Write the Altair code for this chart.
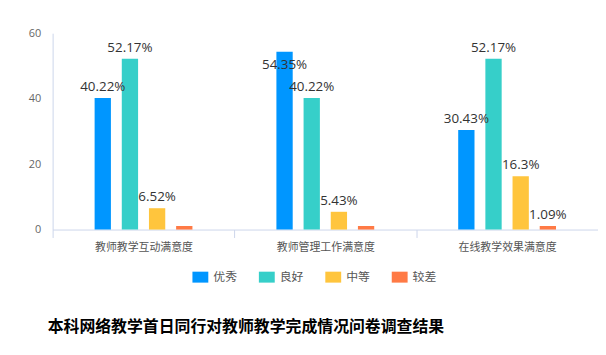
import altair as alt
import pandas as pd

categories = ["教师教学互动满意度", "教师管理工作满意度", "在线教学效果满意度"]
levels = ["优秀", "良好", "中等", "较差"]
colors = ["#0096FF", "#36CFC9", "#FFC53D", "#FF7A45"]

excellent = [40.22, 54.35, 30.43]
good = [52.17, 40.22, 52.17]
medium = [6.52, 5.43, 16.3]
poor = [1.09, 1.09, 1.09]
labels_excellent = ["40.22%", "54.35%", "30.43%"]
labels_good = ["52.17%", "40.22%", "52.17%"]
labels_medium = ["6.52%", "5.43%", "16.3%"]
labels_poor = ["", "", "1.09%"]

title_text = "本科网络教学首日同行对教师教学完成情况问卷调查结果"

rows = []
for series, vals, labs in zip(levels, [excellent, good, medium, poor],
                              [labels_excellent, labels_good, labels_medium, labels_poor]):
    for c, v, l in zip(categories, vals, labs):
        rows.append({"category": c, "level": series, "value": v, "label": l})
df = pd.DataFrame(rows)

FONT = "Noto Sans CJK SC"

x_enc = alt.X("category:N", sort=categories, title=None,
              scale=alt.Scale(paddingInner=0, paddingOuter=0),
              axis=alt.Axis(labelAngle=0, labelFontSize=11, labelColor="#555",
                            labelFont=FONT, domainColor="#ccd6eb", tickColor="#ccd6eb",
                            tickSize=8, tickBand="extent", labelPadding=4, grid=False))
xo_enc = alt.XOffset("level:N", sort=levels,
                     scale=alt.Scale(paddingInner=0.40, paddingOuter=0, range=[42.35, 140.99]))

bars = alt.Chart(df).mark_bar().encode(
    x=x_enc,
    xOffset=xo_enc,
    y=alt.Y("value:Q", title=None,
            scale=alt.Scale(domain=[0, 60], nice=False),
            axis=alt.Axis(values=[0, 20, 40, 60], grid=False, ticks=False,
                          domainColor="#ccd6eb", labelColor="#666", labelFontSize=11,
                          labelPadding=12, labelFont="Open Sans")),
    color=alt.Color("level:N", sort=levels,
                    scale=alt.Scale(domain=levels, range=colors),
                    legend=alt.Legend(title=None, orient="none", direction="horizontal",
                                      legendX=141, legendY=238, columns=4,
                                      symbolType="M-1,-0.69H1V0.69H-1Z", symbolSize=256,
                                      symbolStrokeWidth=0, labelFontSize=12,
                                      labelColor="#555", labelFont=FONT, labelOffset=5,
                                      columnPadding=21)),
)

text_common = dict(fontSize=13.5, color="#333", font="Open Sans", align="center")

labels_normal = alt.Chart(df).transform_filter("datum.value <= 53").mark_text(
    baseline="bottom", dy=-4, **text_common).encode(
    x=alt.X("category:N", sort=categories), xOffset=xo_enc,
    y="value:Q", text="label:N")

labels_top = alt.Chart(df).transform_filter("datum.value > 53").mark_text(
    baseline="middle", dy=13, **text_common).encode(
    x=alt.X("category:N", sort=categories), xOffset=xo_enc,
    y="value:Q", text="label:N")

chart = alt.layer(bars, labels_normal, labels_top).properties(
    width=550, height=198,
    padding={"left": 45, "top": 24, "right": 0, "bottom": 116},
    autosize=alt.AutoSizeParams(type="none"),
    title=alt.Title(title_text, orient="bottom", anchor="start", frame="group",
                    font=FONT, fontSize=16, fontWeight="bold", color="#000",
                    offset=36, dx=-5),
).configure_view(stroke=None)

chart.save("out.html", embed_options={"renderer": "svg", "actions": False})
